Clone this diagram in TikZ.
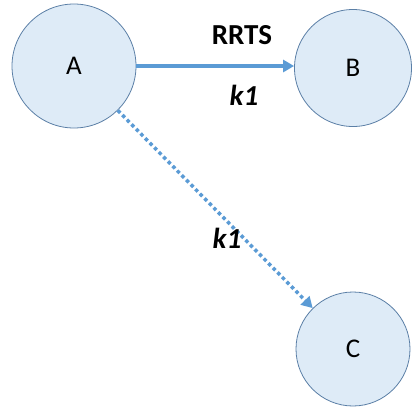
\documentclass[tikz,border=0pt]{standalone}
\usepackage{fontspec}
\setmainfont{Carlito}
\usetikzlibrary{arrows.meta}
\definecolor{nodefill}{HTML}{DEEBF7}
\definecolor{nodeline}{HTML}{5B7FA6}
\definecolor{arrowblue}{HTML}{5B9BD5}
\begin{document}
\begin{tikzpicture}[x=1pt,y=-1pt,
  circ/.style={circle,draw=nodeline,line width=0.8pt,fill=nodefill,inner sep=0pt,font=\fontsize{27}{32}\selectfont},
  conn/.style={draw=arrowblue,line width=3.5pt,-{Triangle[length=11pt,width=12pt]}},
  lbl/.style={font=\fontsize{29}{34}\selectfont\bfseries}]
\useasboundingbox (0,0) rectangle (413,408);
\node[circ,minimum size=124pt] (A) at (74,66) {A};
\node[circ,minimum size=117pt] (B) at (353,68) {B};
\node[circ,minimum size=114pt] (C) at (353,349) {C};
\draw[conn] (A.east) -- (A.east -| B.west);
\draw[conn,dash pattern=on 3.5pt off 3pt] (A) -- (C);
\node[lbl] (rrts) at (242,35) {RRTS};
\node[lbl] (k1a) at (244,95) {\itshape k1};
\node[lbl] (k1b) at (227,238) {\itshape k1};
\end{tikzpicture}
\end{document}
